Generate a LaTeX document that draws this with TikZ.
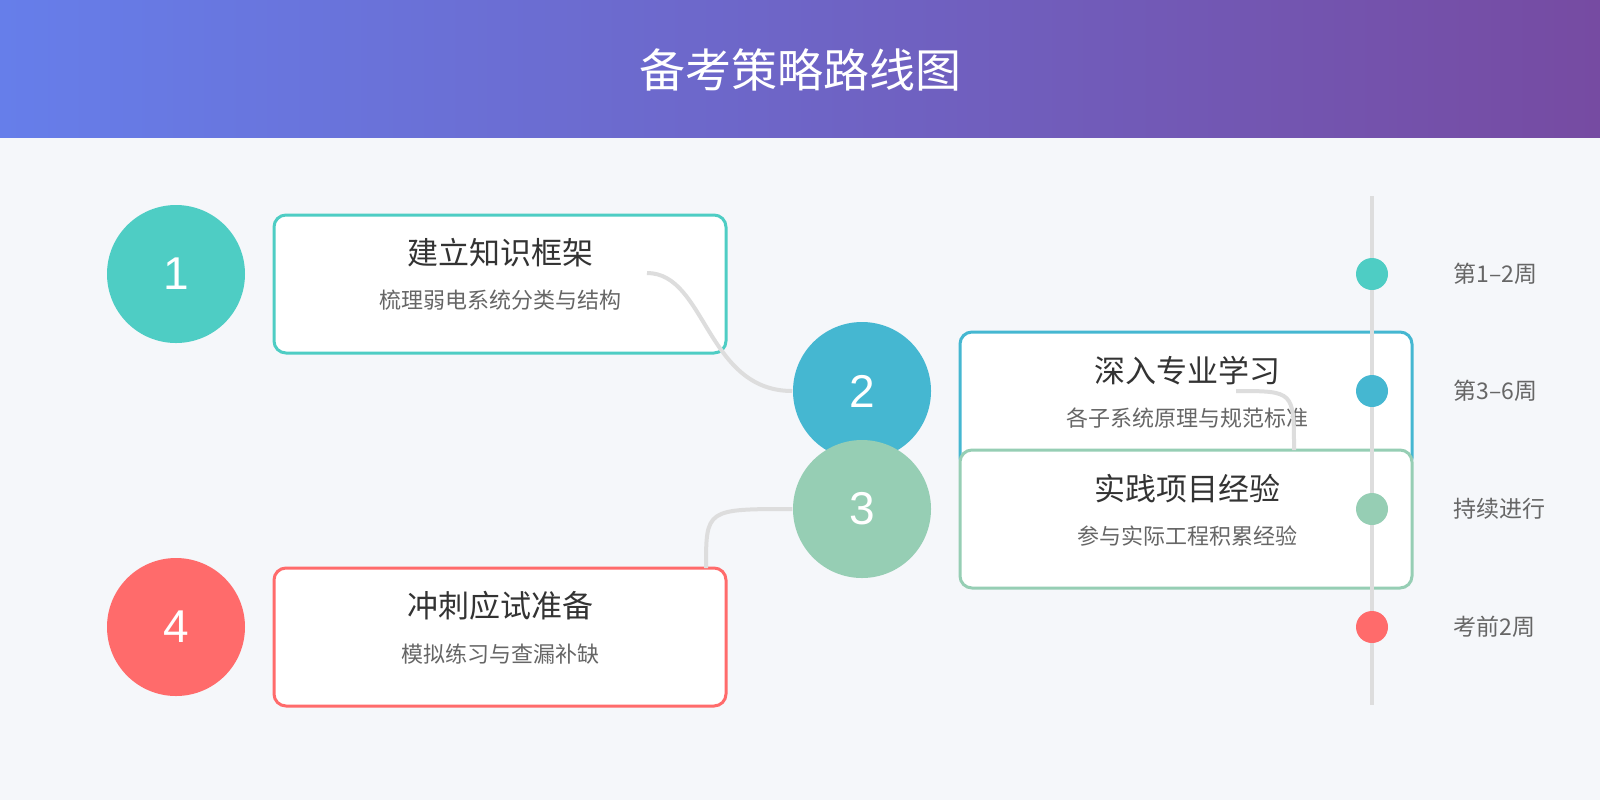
\documentclass[tikz,border=0pt]{standalone}
\usepackage{fontspec}
\setmainfont{Noto Sans CJK SC}
\newfontfamily\numfont{Liberation Sans}
\definecolor{hdrL}{HTML}{667EEA}
\definecolor{hdrR}{HTML}{764BA2}
\definecolor{bgc}{HTML}{F5F7FA}
\definecolor{cA}{HTML}{4ECDC4}
\definecolor{cB}{HTML}{45B7D1}
\definecolor{cC}{HTML}{96CEB4}
\definecolor{cD}{HTML}{FF6B6B}
\definecolor{linec}{HTML}{DDDDDD}
\definecolor{subc}{HTML}{666666}
\definecolor{titc}{HTML}{333333}
\tikzset{every picture/.style={line width=0.75pt}}
\tikzset{
  stepcirc/.style={circle,fill=#1,minimum size=69pt,inner sep=0pt,text=white,font=\numfont\fontsize{23}{26}\selectfont},
  stepcard/.style={draw=#1,line width=1.5pt,fill=white,rounded corners=6pt,minimum width=226pt,minimum height=69pt},
  cardtitle/.style={text=titc,font=\fontsize{15.5}{18}\selectfont},
  cardsub/.style={text=subc,font=\fontsize{11}{13}\selectfont},
  tdot/.style={circle,fill=#1,minimum size=16pt,inner sep=0pt},
  tlabel/.style={anchor=west,text=subc,font=\fontsize{11.5}{14}\selectfont},
  flow/.style={draw=linec,line width=2pt}
}
\begin{document}
\begin{tikzpicture}[x=0.5pt,y=-0.5pt]
\useasboundingbox (0,0) rectangle (1600,800);
\fill[bgc] (0,0) rectangle (1600,800);
% header
\shade[left color=hdrL,right color=hdrR] (0,0) rectangle (1600,137);
\node[text=white,font=\fontsize{23}{26}\selectfont] (head) at (800,70) {备考策略路线图};

% cards
\node[stepcard=cA] (card1) at (500,284) {};
\node[cardtitle] (t1) at (500,253) {建立知识框架};
\node[cardsub] (s1) at (500,300) {梳理弱电系统分类与结构};
\node[stepcard=cB] (card2) at (1186,401) {};
\node[cardtitle] (t2) at (1187,371) {深入专业学习};
\node[cardsub] (s2) at (1187,418) {各子系统原理与规范标准};
\node[stepcard=cC] (card3) at (1186,519) {};
\node[cardtitle] (t3) at (1187,489) {实践项目经验};
\node[cardsub] (s3) at (1187,536) {参与实际工程积累经验};
\node[stepcard=cD] (card4) at (500,637) {};
\node[cardtitle] (t4) at (500,606) {冲刺应试准备};
\node[cardsub] (s4) at (500,654) {模拟练习与查漏补缺};

% circles
\node[stepcirc=cA] (n1) at (176,274) {1};
\node[stepcirc=cB] (n2) at (862,391) {2};
\node[stepcirc=cC] (n3) at (862,509) {3};
\node[stepcirc=cD] (n4) at (176,627) {4};

% connectors
\coordinate (a1) at (647,273);
\coordinate (a2) at (1236,391);
\coordinate (b3) at (1294,450);
\coordinate (b4) at (706,568);
\draw[flow] (a1) .. controls (706,273) and (706,391) .. (n2.west);
\draw[flow] (a2) .. controls (1294,391) .. (b3);
\draw[flow] (n3.west) .. controls (706,509) .. (b4);

% timeline
\coordinate (ttop) at (1372,196);
\coordinate (tbot) at (1372,705);
\draw[flow] (ttop) -- (tbot);
\node[tdot=cA] (d1) at (1372,274) {};
\node[tdot=cB] (d2) at (1372,391) {};
\node[tdot=cC] (d3) at (1372,509) {};
\node[tdot=cD] (d4) at (1372,627) {};
\node[tlabel] (l1) at (1446,274) {第1–2周};
\node[tlabel] (l2) at (1446,391) {第3–6周};
\node[tlabel] (l3) at (1446,509) {持续进行};
\node[tlabel] (l4) at (1446,627) {考前2周};
\end{tikzpicture}
\end{document}
